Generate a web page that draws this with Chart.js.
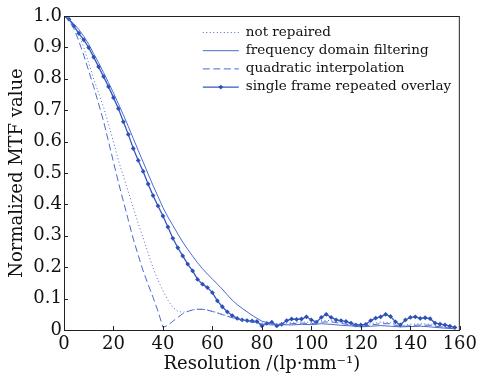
<!DOCTYPE html>
<html lang="en">
<head>
    <meta charset="UTF-8">
    <title>Normalized MTF</title>
    <style>
        body { margin: 0; background: white; }
        #wrap { width: 481px; height: 378px; }
    </style>
</head>
<body>
    <div id="wrap"><canvas id="chart" width="481" height="378"></canvas></div>

    <script src="https://cdn.jsdelivr.net/npm/chart.js"></script>
    <script>
        // x positions for the marker series and for the plain curves
        const markerRes = [0, 2, 4, 6, 8, 10, 12, 14, 16, 18, 20, 22, 24, 26, 28, 30, 32, 34, 36, 38,
            40, 42, 44, 46, 48, 50, 52, 54, 56, 58, 60, 62, 64, 66, 68, 70, 72, 74, 76, 78,
            80, 82, 84, 86, 88, 90, 92, 94, 96, 98, 100, 102, 104, 106, 108, 110, 112, 114, 116, 118,
            120, 122, 124, 126, 128, 130, 132, 134, 136, 138, 140, 142, 144, 146, 148, 150, 152, 154, 156, 158];
        const curveRes = [0, 2, 4, 6, 8, 10, 12, 14, 16, 18, 20, 22, 24, 26, 28, 30, 32, 34, 36, 38,
            40, 42, 44, 46, 48, 50, 52, 54, 56, 58, 60, 62, 64, 66, 68, 70, 72,
            76, 80, 84, 88, 92, 96, 100, 104, 108, 112, 116, 120, 124, 128, 132, 136, 140, 144, 148, 152, 156, 158];

        const notRepaired = [1.0, 0.99, 0.97, 0.94, 0.9, 0.85, 0.8, 0.755, 0.71, 0.655, 0.6, 0.54, 0.49, 0.44, 0.39, 0.34, 0.293, 0.245, 0.198, 0.158,
            0.125, 0.095, 0.072, 0.06, 0.056, 0.06, 0.064, 0.066, 0.066, 0.064, 0.06, 0.055, 0.05, 0.045, 0.04, 0.036, 0.032,
            0.027, 0.022, 0.019, 0.02, 0.024, 0.026, 0.024, 0.03, 0.03, 0.025, 0.02, 0.013, 0.02, 0.025, 0.024, 0.013, 0.018, 0.02, 0.018, 0.012, 0.008, 0.005];
        const freqFilter = [1.0, 0.99, 0.975, 0.957, 0.935, 0.91, 0.88, 0.851, 0.82, 0.788, 0.755, 0.72, 0.685, 0.648, 0.61, 0.572, 0.535, 0.497, 0.46, 0.425,
            0.39, 0.36, 0.333, 0.306, 0.28, 0.257, 0.235, 0.214, 0.195, 0.178, 0.162, 0.146, 0.13, 0.112, 0.095, 0.081, 0.069,
            0.047, 0.028, 0.02, 0.017, 0.016, 0.018, 0.017, 0.02, 0.018, 0.015, 0.013, 0.01, 0.012, 0.014, 0.012, 0.01, 0.011, 0.012, 0.01, 0.007, 0.005, 0.004];
        const quadInterp = [1.0, 0.985, 0.96, 0.92, 0.875, 0.825, 0.775, 0.72, 0.665, 0.6, 0.535, 0.47, 0.41, 0.35, 0.29, 0.238, 0.188, 0.145, 0.104, 0.06,
            0.008, 0.015, 0.028, 0.04, 0.052, 0.059, 0.064, 0.066, 0.066, 0.063, 0.059, 0.054, 0.049, 0.044, 0.039, 0.035, 0.031,
            0.025, 0.019, 0.016, 0.017, 0.02, 0.022, 0.02, 0.025, 0.026, 0.021, 0.016, 0.01, 0.016, 0.02, 0.02, 0.01, 0.014, 0.016, 0.015, 0.01, 0.006, 0.004];
        const singleFrame = [1.0, 0.99, 0.968, 0.945, 0.924, 0.899, 0.869, 0.838, 0.807, 0.775, 0.74, 0.705, 0.663, 0.623, 0.578, 0.54, 0.505, 0.465, 0.428, 0.395,
            0.363, 0.328, 0.292, 0.262, 0.236, 0.21, 0.188, 0.161, 0.146, 0.135, 0.119, 0.093, 0.074, 0.058, 0.046, 0.037, 0.032, 0.03, 0.029, 0.027,
            0.013, 0.021, 0.025, 0.013, 0.018, 0.03, 0.035, 0.034, 0.035, 0.042, 0.032, 0.025, 0.04, 0.05, 0.04, 0.032, 0.03, 0.027, 0.022, 0.016,
            0.016, 0.018, 0.03, 0.038, 0.042, 0.05, 0.043, 0.026, 0.016, 0.032, 0.04, 0.042, 0.037, 0.039, 0.036, 0.022, 0.019, 0.016, 0.012, 0.008];

        const xTicks = [0, 20, 40, 60, 80, 100, 120, 140, 160];
        const yTicks = [0, 0.1, 0.2, 0.3, 0.4, 0.5, 0.6, 0.7, 0.8, 0.9, 1.0];

        const serif = 'DejaVu Serif';
        const lineBlue = '#4a6bd0';
        const markBlue = '#2c50b8';

        const toPoints = (xs, ys) => xs.map((x, i) => ({ x: x, y: ys[i] }));

        // frame, inward ticks and the boxed legend
        const framePlugin = {
            id: 'frame',
            afterDraw(chart) {
                const ctx = chart.ctx;
                const a = chart.chartArea;
                const xs = chart.scales.x;
                const ys = chart.scales.y;
                ctx.save();
                ctx.strokeStyle = '#222';
                ctx.lineWidth = 1;
                ctx.strokeRect(a.left + 0.5, a.top + 0.5, a.right - a.left - 1, a.bottom - a.top);
                ctx.beginPath();
                xTicks.forEach(v => {
                    const px = Math.round(xs.getPixelForValue(v)) + 0.5;
                    ctx.moveTo(px, a.bottom);
                    ctx.lineTo(px, a.bottom - 4);
                });
                yTicks.forEach(v => {
                    const py = Math.round(ys.getPixelForValue(v)) + 0.5;
                    ctx.moveTo(a.left, py);
                    ctx.lineTo(a.left + 4, py);
                });
                ctx.stroke();

                // legend
                const lx = a.right - 257;
                const tx = a.right - 214;
                let ly = a.top + 16;
                ctx.font = '13.5px "' + serif + '"';
                ctx.textBaseline = 'middle';
                chart.data.datasets.forEach(ds => {
                    ctx.strokeStyle = ds.borderColor;
                    ctx.lineWidth = ds.borderWidth;
                    ctx.setLineDash(ds.borderDash || []);
                    ctx.beginPath();
                    ctx.moveTo(lx, ly + 0.5);
                    ctx.lineTo(lx + 36, ly + 0.5);
                    ctx.stroke();
                    ctx.setLineDash([]);
                    if (ds.pointRadius > 0) {
                        const cx = lx + 18, cy = ly + 0.5, r = ds.pointRadius;
                        ctx.fillStyle = ds.pointBackgroundColor;
                        ctx.beginPath();
                        ctx.moveTo(cx, cy - r);
                        ctx.lineTo(cx + r, cy);
                        ctx.lineTo(cx, cy + r);
                        ctx.lineTo(cx - r, cy);
                        ctx.closePath();
                        ctx.fill();
                    }
                    ctx.fillStyle = '#111';
                    ctx.fillText(ds.label, tx, ly);
                    ly += 18.2;
                });
                ctx.restore();
            }
        };

        new Chart(document.getElementById('chart'), {
            type: 'line',
            data: {
                datasets: [
                    {
                        label: 'not repaired',
                        data: toPoints(curveRes, notRepaired),
                        borderColor: lineBlue,
                        borderWidth: 1,
                        borderDash: [1, 2.5],
                        pointRadius: 0,
                        tension: 0
                    },
                    {
                        label: 'frequency domain filtering',
                        data: toPoints(curveRes, freqFilter),
                        borderColor: lineBlue,
                        borderWidth: 1,
                        pointRadius: 0,
                        tension: 0
                    },
                    {
                        label: 'quadratic interpolation',
                        data: toPoints(curveRes, quadInterp),
                        borderColor: lineBlue,
                        borderWidth: 1,
                        borderDash: [7, 3.5],
                        pointRadius: 0,
                        tension: 0
                    },
                    {
                        label: 'single frame repeated overlay',
                        data: toPoints(markerRes, singleFrame),
                        borderColor: '#3558c0',
                        borderWidth: 1.3,
                        pointStyle: 'rectRot',
                        pointRadius: 2.4,
                        pointBorderWidth: 0,
                        pointBackgroundColor: markBlue,
                        tension: 0
                    }
                ]
            },
            options: {
                responsive: false,
                animation: false,
                layout: { padding: { top: 16, right: 19, left: 0, bottom: 0 } },
                plugins: {
                    legend: { display: false },
                    tooltip: { enabled: false }
                },
                scales: {
                    x: {
                        type: 'linear',
                        min: 0,
                        max: 160,
                        afterBuildTicks: s => { s.ticks = xTicks.map(v => ({ value: v })); },
                        afterFit: s => { s.height = 48; },
                        grid: { display: true, drawOnChartArea: false, drawTicks: false },
                        border: { display: true, color: '#222' },
                        ticks: {
                            color: '#111',
                            padding: 4,
                            maxRotation: 0,
                            font: { family: serif, size: 18 }
                        },
                        title: {
                            display: true,
                            text: 'Resolution /(lp\u00b7mm\u207b\u00b9)',
                            color: '#111',
                            font: { family: serif, size: 18 },
                            padding: { top: 0, bottom: 3 }
                        }
                    },
                    y: {
                        min: 0,
                        max: 1,
                        afterBuildTicks: s => { s.ticks = yTicks.map(v => ({ value: v })); },
                        afterFit: s => { s.width = 64; },
                        grid: { display: true, drawOnChartArea: false, drawTicks: false },
                        border: { display: true, color: '#222' },
                        ticks: {
                            color: '#111',
                            padding: 2,
                            font: { family: serif, size: 18 },
                            callback: v => (v === 0 ? '0' : v.toFixed(1))
                        },
                        title: {
                            display: true,
                            text: 'Normalized MTF value',
                            color: '#111',
                            font: { family: serif, size: 18 },
                            padding: { top: 7, bottom: 0 }
                        }
                    }
                }
            },
            plugins: [framePlugin]
        });
    </script>
</body>
</html>
